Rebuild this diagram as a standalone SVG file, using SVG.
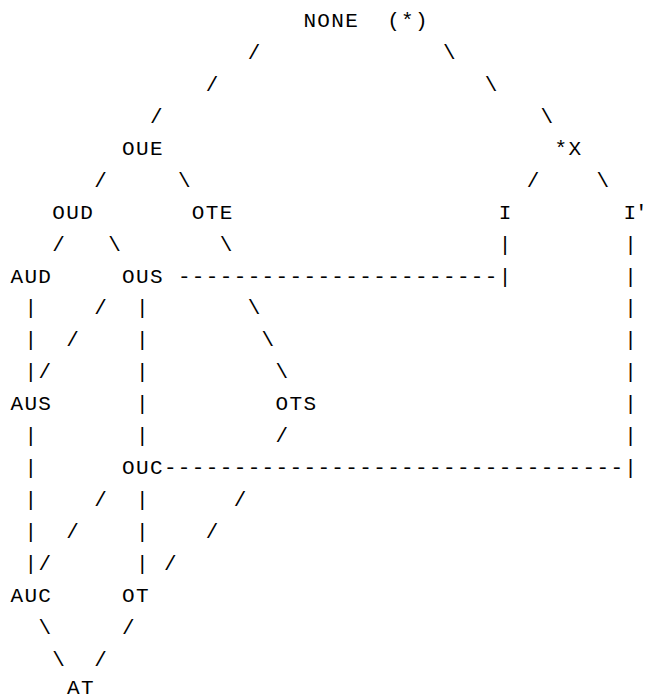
<svg xmlns="http://www.w3.org/2000/svg" width="647" height="700" viewBox="0 0 647 700">
<style>
text{font-family:"Liberation Mono","DejaVu Sans Mono",monospace;font-size:21px;letter-spacing:1.35px;fill:#000;white-space:pre}
text.ns{letter-spacing:0}
text.tight{letter-spacing:-1px}
</style>
<rect width="647" height="700" fill="#fff"/>
<g id="connectors">
<text x="247.63" y="58.94">/</text><text x="442.93" y="58.94">\</text>
<text x="205.78" y="90.88">/</text><text x="484.78" y="90.88">\</text>
<text x="149.98" y="122.82">/</text><text x="540.58" y="122.82">\</text>
<text x="94.18" y="186.7">/</text><text x="177.88" y="186.7">\</text><text x="526.63" y="186.7">/</text><text x="596.38" y="186.7">\</text>
<text x="52.33" y="250.58">/</text><text x="108.13" y="250.58">\</text><text x="219.73" y="250.58">\</text><text x="498.73" y="250.58">|</text><text x="624.28" y="250.58">|</text>
<text x="177.88" y="282.52">-----------------------</text><text x="498.73" y="282.52">|</text><text x="624.28" y="282.52">|</text>
<text x="24.43" y="314.46">|</text><text x="94.18" y="314.46">/</text><text x="136.03" y="314.46">|</text><text x="247.63" y="314.46">\</text><text x="624.28" y="314.46">|</text>
<text x="24.43" y="346.4">|</text><text x="66.28" y="346.4">/</text><text x="136.03" y="346.4">|</text><text x="261.58" y="346.4">\</text><text x="624.28" y="346.4">|</text>
<text x="24.43" y="378.34">|</text><text x="38.38" y="378.34">/</text><text x="136.03" y="378.34">|</text><text x="275.53" y="378.34">\</text><text x="624.28" y="378.34">|</text>
<text x="136.03" y="410.28">|</text><text x="624.28" y="410.28">|</text>
<text x="24.43" y="442.22">|</text><text x="136.03" y="442.22">|</text><text x="275.53" y="442.22">/</text><text x="624.28" y="442.22">|</text>
<text x="24.43" y="474.16">|</text><text x="163.93" y="474.16">---------------------------------</text><text x="624.28" y="474.16">|</text>
<text x="24.43" y="506.1">|</text><text x="94.18" y="506.1">/</text><text x="136.03" y="506.1">|</text><text x="233.68" y="506.1">/</text>
<text x="24.43" y="538.04">|</text><text x="66.28" y="538.04">/</text><text x="136.03" y="538.04">|</text><text x="205.78" y="538.04">/</text>
<text x="24.43" y="569.98">|</text><text x="38.38" y="569.98">/</text><text x="136.03" y="569.98">|</text><text x="163.93" y="569.98">/</text>
<text x="38.38" y="633.86">\</text><text x="122.08" y="633.86">/</text>
<text x="52.33" y="665.8">\</text><text x="94.18" y="665.8">/</text>
</g>
<g id="n-none"><text x="303.43" y="27">NONE  (*)</text></g>
<g id="n-oue"><text x="122.08" y="154.76">OUE</text></g>
<g id="n-x"><text x="554.53" y="154.76">*X</text></g>
<g id="n-oud"><text x="52.33" y="218.64">OUD</text></g>
<g id="n-ote"><text x="191.83" y="218.64">OTE</text></g>
<g id="n-i"><text x="498.73" y="218.64">I</text></g>
<g id="n-iprime"><text class="tight" x="623.5" y="218.64">I'</text></g>
<g id="n-aud"><text x="10.48" y="282.52">AUD</text></g>
<g id="n-ous"><text x="122.08" y="282.52">OUS</text></g>
<g id="n-aus"><text x="10.48" y="410.28">AUS</text></g>
<g id="n-ots"><text x="275.53" y="410.28">OTS</text></g>
<g id="n-ouc"><text x="122.08" y="474.16">OUC</text></g>
<g id="n-auc"><text x="10.48" y="601.92">AUC</text></g>
<g id="n-ot"><text x="122.08" y="601.92">OT</text></g>
<g id="n-at"><text class="ns" x="66.95" y="694">A<tspan x="80.9">T</tspan></text></g>
</svg>
